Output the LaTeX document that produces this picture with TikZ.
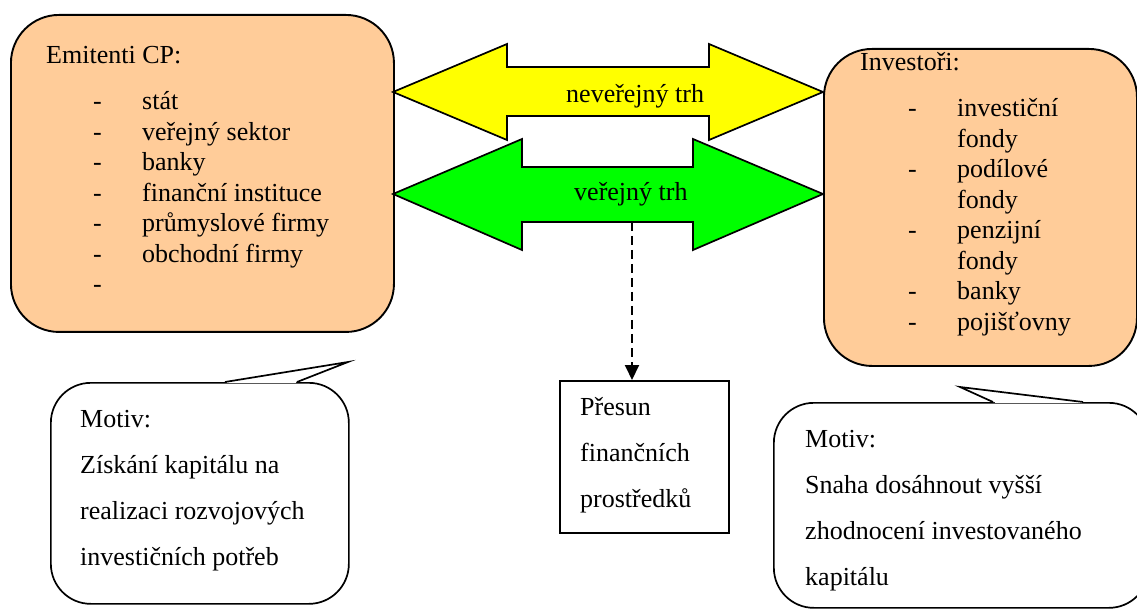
\documentclass[tikz,border=0pt]{standalone}
\usepackage{fontspec}
\setmainfont{Liberation Serif}
\newfontfamily\tnr{Liberation Serif}
\usetikzlibrary{arrows.meta}
\definecolor{peach}{RGB}{255,204,153}
\definecolor{ayellow}{RGB}{255,255,0}
\definecolor{agreen}{RGB}{0,255,0}
\begin{document}
\begin{tikzpicture}[x=1pt,y=-1pt,
  orangebox/.style={draw, line width=1.9pt, fill=peach, rounded corners=48pt, anchor=north west, inner sep=0pt},
  calloutbox/.style={draw, line width=1.7pt, fill=white, rounded corners=40pt, anchor=north west, inner sep=0pt},
  plainbox/.style={draw, line width=1.7pt, fill=white, anchor=north west, inner sep=0pt},
  bigarrow/.style={draw, line width=1.7pt, line join=miter},
  txt/.style={anchor=base west, inner sep=0pt, font=\tnr\fontsize{26}{31}\selectfont},
  dasharrow/.style={line width=2pt, dash pattern=on 9pt off 5pt, -{Triangle[length=15pt,width=14pt]}},
  pointer/.style={draw, line width=1.7pt, line join=miter},
]
\useasboundingbox (0,0) rectangle (1137,609);
\clip (0,0) rectangle (1137,609);

% orange boxes
\node[orangebox, minimum width=383pt, minimum height=317pt] (emit) at (10,14) {};
\node[orangebox, minimum width=313pt, minimum height=317pt] (inv) at (823,48) {};

% double arrows
\draw[bigarrow, fill=ayellow] (393,92) -- (507,44) -- (507,67) -- (709,67) -- (709,44) -- (823,92)
  -- (709,140) -- (709,116) -- (507,116) -- (507,140) -- cycle;
\draw[bigarrow, fill=agreen] (393,194) -- (522,139) -- (522,167) -- (693,167) -- (693,139) -- (823,194)
  -- (693,250) -- (693,222) -- (522,222) -- (522,250) -- cycle;
\node[txt] (nt) at (566,103) {neveřejný trh};
\node[txt] (vt) at (574,201) {veřejný trh};

% transfer box
\node[plainbox, minimum width=169pt, minimum height=152pt] (presun) at (559,380) {};
\coordinate (gb) at (632,222);
\draw[dasharrow] (gb) -- (gb |- presun.north);
\node[txt] (p1) at (580,415) {Přesun};
\node[txt] (p2) at (580,461) {finančních};
\node[txt] (p3) at (580,507) {prostředků};

% left list
\node[txt] (eh) at (46,64) {Emitenti CP:};
\foreach \t [count=\i from 0] in {stát,veřejný sektor,banky,finanční instituce,průmyslové firmy,obchodní firmy,{}} {
  \node[txt] (ed\i) at (93,110+30.5*\i) {-};
  \node[txt] (et\i) at (142,110+30.5*\i) {\t};
}

% right list
\node[txt] (ih) at (860,71) {Investoři:};
\node[txt] (id0) at (908,117) {-};
\node[txt] (it0) at (957,117) {investiční};
\node[txt] (it1) at (957,147.5) {fondy};
\node[txt] (id2) at (908,178) {-};
\node[txt] (it2) at (957,178) {podílové};
\node[txt] (it3) at (957,208.5) {fondy};
\node[txt] (id4) at (908,239) {-};
\node[txt] (it4) at (957,239) {penzijní};
\node[txt] (it5) at (957,269.5) {fondy};
\node[txt] (id6) at (908,300) {-};
\node[txt] (it6) at (957,300) {banky};
\node[txt] (id7) at (908,330.5) {-};
\node[txt] (it7) at (957,330.5) {pojišťovny};

% left callout
\node[calloutbox, minimum width=298pt, minimum height=221pt] (lc) at (50,382) {};
\fill[white] (225,382) -- (348,362) -- (297,382) -- cycle;
\draw[white, line width=2.6pt] (226.5,382) -- (295.5,382);
\draw[pointer] (225,382) -- (348,362) -- (297,382);
\node[txt] (l1) at (80,427) {Motiv:};
\node[txt] (l2) at (80,473) {Získání kapitálu na};
\node[txt] (l3) at (80,519.5) {realizaci rozvojových};
\node[txt] (l4) at (80,565.5) {investičních potřeb};

% right callout
\node[calloutbox, minimum width=375pt, minimum height=205pt] (rc) at (773,402) {};
\fill[white] (993,402) -- (960,387) -- (1083,402) -- cycle;
\draw[white, line width=2.6pt] (994.5,402) -- (1081.5,402);
\draw[pointer] (993,402) -- (960,387) -- (1083,402);
\node[txt] (r1) at (805,447) {Motiv:};
\node[txt] (r2) at (805,493) {Snaha dosáhnout vyšší};
\node[txt] (r3) at (805,539.5) {zhodnocení investovaného};
\node[txt] (r4) at (805,585.5) {kapitálu};
\end{tikzpicture}
\end{document}
